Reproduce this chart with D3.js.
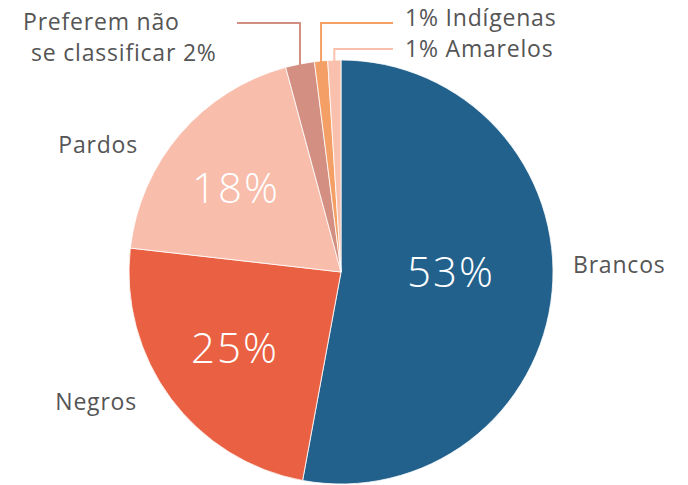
<!DOCTYPE html>
<html>
<head>
  <meta charset="UTF-8">
  <title>Cor ou raça</title>
  <style>
    body {
      margin: 0;
      padding: 0;
      background: #fff;
      font-family: "Open Sans", Arial, sans-serif;
    }
    svg {
      display: block;
    }
  </style>
</head>
<body>
  <svg></svg>

  <script src="https://d3js.org/d3.v7.min.js"></script>
  <script>
    // valores
    let categories = ["Brancos", "Negros", "Pardos", "Preferem não se classificar", "Indígenas", "Amarelos"];
    let values = [52.9, 23.9, 19.0, 2.2, 1.0, 1.0];
    let pctLabels = ["53%", "25%", "18%", "2%", "1%", "1%"];
    let colors = ["#23618d", "#ea6042", "#f8bdab", "#d48f83", "#f39f65", "#f9c0ae"];

    let width = 688, height = 485;
    let cx = 341, cy = 272, radius = 212;

    let svg = d3.select("svg")
        .attr("width", width)
        .attr("height", height);

    let pie = d3.pie().sort(null).value(d => d)(values);
    let arc = d3.arc().innerRadius(0).outerRadius(radius);

    let g = svg.append("g").attr("transform", "translate(" + cx + "," + cy + ")");

    g.selectAll("path")
      .data(pie)
      .enter()
      .append("path")
      .attr("d", arc)
      .attr("fill", (d, i) => colors[i])
      .attr("stroke", "#fff")
      .attr("stroke-width", 0.8);

    // percentuais dentro das fatias grandes
    let inside = [
      {i: 0, x: 451, y: 287},
      {i: 1, x: 235, y: 363},
      {i: 2, x: 236, y: 203}
    ];
    g.selectAll("text.pct")
      .data(inside)
      .enter()
      .append("text")
      .attr("class", "pct")
      .attr("x", d => d.x - cx)
      .attr("y", d => d.y - cy)
      .attr("text-anchor", "middle")
      .attr("fill", "#fff")
      .style("font-size", "42px")
      .style("font-weight", 300)
      .style("letter-spacing", "2px")
      .text(d => pctLabels[d.i]);

    let labelStyle = sel => sel
      .attr("fill", "#555")
      .style("font-size", "23px")
      .style("letter-spacing", "0.8px")
      .style("font-weight", 400);

    // rotulos externos
    svg.append("text").attr("x", 573).attr("y", 273).call(labelStyle).text(categories[0]);
    svg.append("text").attr("x", 137).attr("y", 410).attr("text-anchor", "end").call(labelStyle).text(categories[1]);
    svg.append("text").attr("x", 138).attr("y", 153).attr("text-anchor", "end").call(labelStyle).text(categories[2]);
    svg.append("text").attr("x", 23).attr("y", 30).call(labelStyle).text("Preferem não");
    svg.append("text").attr("x", 31).attr("y", 61).call(labelStyle).text("se classificar " + pctLabels[3]);
    svg.append("text").attr("x", 405).attr("y", 26).call(labelStyle).text(pctLabels[4] + " " + categories[4]);
    svg.append("text").attr("x", 405).attr("y", 57).call(labelStyle).text(pctLabels[5] + " " + categories[5]);

    // linhas de chamada
    let leaders = [
      {i: 3, elbowY: 23, endX: 237},
      {i: 4, elbowY: 23, endX: 393},
      {i: 5, elbowY: 49, endX: 393}
    ];
    leaders.forEach(l => {
      let d = pie[l.i];
      let a = (d.startAngle + d.endAngle) / 2;
      let x0 = cx + radius * Math.sin(a);
      let y0 = cy - radius * Math.cos(a) + 1;
      svg.append("polyline")
        .attr("points", [[x0, y0], [x0, l.elbowY], [l.endX, l.elbowY]].map(p => p.join(",")).join(" "))
        .attr("fill", "none")
        .attr("stroke", colors[l.i])
        .attr("stroke-width", 2);
    });
  </script>
</body>
</html>
